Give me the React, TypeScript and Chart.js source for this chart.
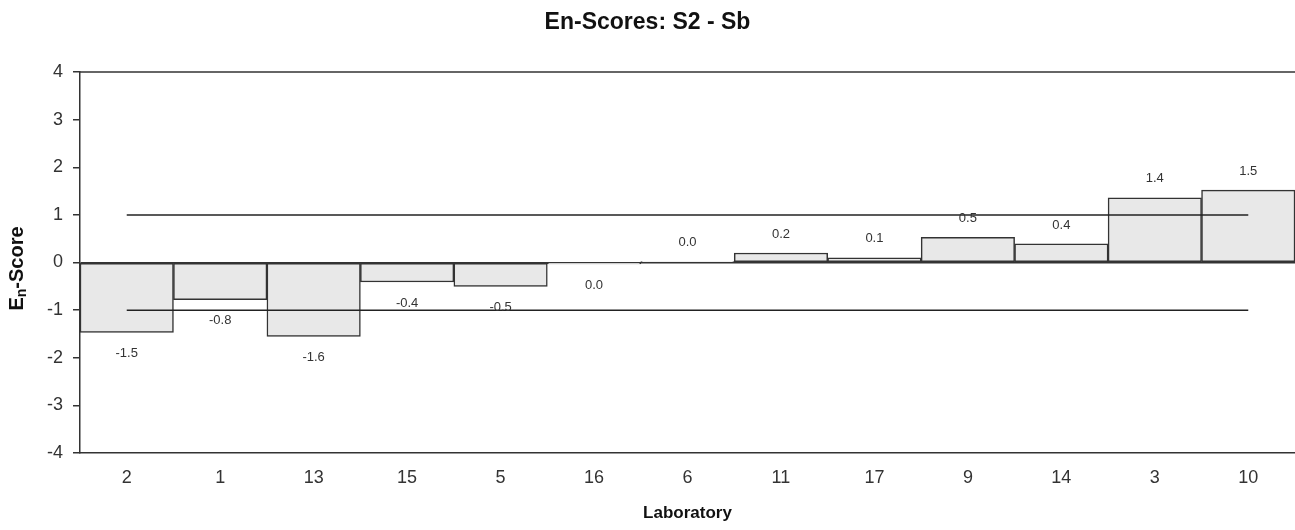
import React, { useEffect, useRef } from 'react';
import { Chart, registerables } from 'chart.js';

Chart.register(...registerables);

const FONT = '"Liberation Sans", Arial, Helvetica, sans-serif';

const laboratories = ['2', '1', '13', '15', '5', '16', '6', '11', '17', '9', '14', '3', '10'];
const enScores = [-1.47, -0.78, -1.55, -0.41, -0.5, -0.03, 0.02, 0.2, 0.1, 0.53, 0.39, 1.36, 1.52];
const upperLimit = [1, 1, 1, 1, 1, 1, 1, 1, 1, 1, 1, 1, 1];
const lowerLimit = [-1, -1, -1, -1, -1, -1, -1, -1, -1, -1, -1, -1, -1];
const yMin = -4;
const yMax = 4;
const chartTitle = 'En-Scores: S2 - Sb';
const xTitle = 'Laboratory';

const fmt = (v: number) => {
  let s = v.toFixed(1);
  if (s === '-0.0') s = '0.0';
  return s;
};

const customPlugin = {
  id: 'customDraw',
  afterDatasetsDraw(chart: any) {
    const ctx = chart.ctx;
    const { left, right, top } = chart.chartArea;
    ctx.save();
    ctx.strokeStyle = '#333';
    ctx.lineWidth = 1.5;
    ctx.beginPath();
    ctx.moveTo(left, top);
    ctx.lineTo(right, top);
    ctx.stroke();

    const meta = chart.getDatasetMeta(0);
    ctx.font = `13px ${FONT}`;
    ctx.fillStyle = '#333';
    ctx.textAlign = 'center';
    ctx.textBaseline = 'middle';
    meta.data.forEach((bar: any, i: number) => {
      const v = enScores[i];
      const y = v >= 0 ? bar.y - 19 : bar.y + 21;
      ctx.fillText(fmt(v), bar.x, y);
    });
    ctx.restore();
  },
  afterDraw(chart: any) {
    const ctx = chart.ctx;
    const { left, right, top, bottom } = chart.chartArea;
    ctx.save();
    ctx.fillStyle = '#111';
    ctx.textAlign = 'center';
    ctx.textBaseline = 'middle';
    ctx.font = `bold 23px ${FONT}`;
    ctx.fillText(chartTitle, chart.width / 2, 23);

    ctx.font = `bold 17px ${FONT}`;
    ctx.fillText(xTitle, (left + right) / 2, 513);

    // y-axis title with subscript
    ctx.translate(17, (top + bottom) / 2 + 6);
    ctx.rotate(-Math.PI / 2);
    ctx.textAlign = 'left';
    ctx.textBaseline = 'middle';
    const big = `bold 20px ${FONT}`;
    const small = `bold 14px ${FONT}`;
    ctx.font = big;
    const wE = ctx.measureText('E').width;
    const wRest = ctx.measureText('-Score').width;
    ctx.font = small;
    const wN = ctx.measureText('n').width;
    const total = wE + wN + wRest;
    let x = -total / 2;
    ctx.font = big;
    ctx.fillText('E', x, 0);
    x += wE;
    ctx.font = small;
    ctx.fillText('n', x, 5);
    x += wN;
    ctx.font = big;
    ctx.fillText('-Score', x, 0);
    ctx.restore();
  },
};

export default function App() {
  const ref = useRef<HTMLCanvasElement | null>(null);
  useEffect(() => {
    document.body.style.margin = '0';
    if (!ref.current) return;
    const chart = new Chart(ref.current, {
      type: 'bar',
      data: {
        labels: laboratories,
        datasets: [
          {
            type: 'bar',
            data: enScores,
            backgroundColor: '#e8e8e8',
            borderColor: '#333',
            borderWidth: 1.5,
            borderSkipped: false,
            barPercentage: 1,
            categoryPercentage: 1,
            order: 2,
          } as any,
          {
            type: 'line',
            data: upperLimit,
            borderColor: '#222',
            borderWidth: 1.5,
            pointRadius: 0,
            fill: false,
            order: 1,
          } as any,
          {
            type: 'line',
            data: lowerLimit,
            borderColor: '#222',
            borderWidth: 1.5,
            pointRadius: 0,
            fill: false,
            order: 1,
          } as any,
        ],
      },
      options: {
        animation: false,
        responsive: false,
        devicePixelRatio: 1,
        layout: { padding: { top: 72, left: 0, right: 0, bottom: 0 } },
        plugins: {
          legend: { display: false },
          tooltip: { enabled: false },
          title: { display: false },
        },
        scales: {
          x: {
            grid: { display: false, drawTicks: false },
            border: { display: true, color: '#333', width: 1.5 },
            ticks: { font: { family: FONT, size: 18 }, color: '#333', padding: 14 },
            afterFit: (s: any) => {
              s.height = 77;
            },
          },
          y: {
            min: yMin,
            max: yMax,
            ticks: { stepSize: 1, font: { family: FONT, size: 18 }, color: '#333', padding: 10 },
            grid: {
              color: (c: any) => (c.tick && c.tick.value === 0 ? '#333' : 'rgba(0,0,0,0)'),
              lineWidth: 1.5,
              tickLength: 7,
              tickColor: '#333',
              tickWidth: 1.5,
            },
            border: { display: true, color: '#333', width: 1.5 },
            afterFit: (s: any) => {
              s.width = 80;
            },
          },
        },
      } as any,
      plugins: [customPlugin],
    });
    return () => chart.destroy();
  }, []);
  return (
    <div style={{ width: 1295, height: 530, background: '#fff' }}>
      <canvas ref={ref} width={1295} height={530} style={{ display: 'block' }} />
    </div>
  );
}
